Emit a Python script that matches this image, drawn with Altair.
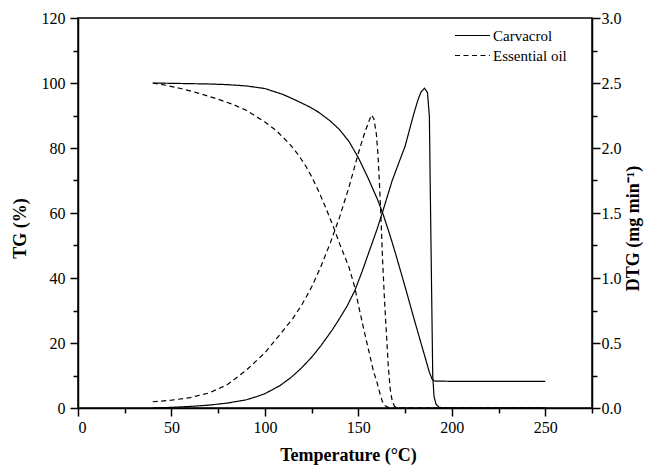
import altair as alt
import pandas as pd

# ---- data ----
series_names = ["Carvacrol", "Essential oil"]

# Carvacrol TG (%)
cv_tg_T = [40, 50, 60, 70, 80, 90, 100, 110, 118, 124, 129, 135, 140, 145, 150, 155, 160, 163, 165, 167,
           170, 175, 180, 185, 188, 189.5, 191, 200, 250]
cv_tg = [100, 99.9, 99.8, 99.7, 99.5, 99.1, 98.3, 96.4, 94.3, 92.6, 90.9, 88.3, 85.6, 82, 77, 71, 64.5, 60, 56.5, 53,
         47.3, 37.3, 27, 17, 11, 8.8, 8.3, 8.2, 8.2]

# Essential oil TG (%)
eo_tg_T = [40, 47, 55, 65, 75, 83, 90, 100, 106, 113, 118, 122, 125, 129, 133, 137, 140, 145, 148, 150,
           152, 155, 158, 160, 162, 163, 164, 166, 168, 250]
eo_tg = [100, 99.3, 98.3, 96.8, 95.0, 93.4, 91.6, 88, 85.4, 81.4, 77.8, 74.3, 71.2, 66.4, 61, 55.2, 50.5, 43.3, 37.3, 31.8,
         26.5, 19, 11.5, 7.8, 3.5, 1.8, 0.8, 0.2, 0, 0]

# Carvacrol DTG (mg/min)
cv_dtg_T = [40, 50, 60, 70, 80, 90, 95, 100, 108, 114, 119, 125, 130, 136, 140, 144, 148, 152, 156, 160,
            163, 168, 172, 175, 178, 180, 182, 183.6, 185.4, 187, 188, 188.4, 189.1, 189.8, 190.5, 191.5,
            193, 195, 250]
cv_dtg = [0, 0.005, 0.012, 0.022, 0.038, 0.063, 0.085, 0.11, 0.172, 0.235, 0.3, 0.39, 0.48, 0.6, 0.69,
          0.785, 0.9, 1.05, 1.213, 1.375, 1.51, 1.745, 1.9, 2.013, 2.175, 2.28, 2.375, 2.433, 2.46, 2.425,
          2.24, 1.768, 1.0, 0.24, 0.088, 0.03, 0.008, 0, 0]

# Essential oil DTG (mg/min)
eo_dtg_T = [40, 50, 60, 70, 80, 90, 100, 108, 115, 120, 125, 130, 135, 140, 145, 150, 153, 155.5, 157,
            158.3, 159.6, 160.5, 161.3, 162.2, 163, 164, 165, 166, 167, 168, 169.3, 171, 250]
eo_dtg = [0.048, 0.06, 0.08, 0.115, 0.18, 0.29, 0.425, 0.565, 0.69, 0.8, 0.93, 1.09, 1.27, 1.47, 1.7, 1.96,
          2.1, 2.2, 2.255, 2.225, 2.11, 1.95, 1.725, 1.425, 1.125, 0.825, 0.575, 0.325, 0.15, 0.063, 0.013,
          0, 0]

x_ticks = list(range(0, 276, 25))
tg_ticks = list(range(0, 121, 10))
dtg_ticks = [i * 0.25 for i in range(13)]


def rows(name, T, V):
    return [{"T": t, "v": v, "s": name} for t, v in zip(T, V)]


tg_df = pd.DataFrame(rows(series_names[0], cv_tg_T, cv_tg) + rows(series_names[1], eo_tg_T, eo_tg))
dtg_df = pd.DataFrame(rows(series_names[0], cv_dtg_T, cv_dtg) + rows(series_names[1], eo_dtg_T, eo_dtg))

FONT = "Liberation Serif"

x_enc = alt.X(
    "T:Q",
    scale=alt.Scale(domain=[0, 275], nice=False, zero=False),
    axis=alt.Axis(
        values=x_ticks,
        format="d",
        labelExpr="datum.value % 50 == 0 && datum.value <= 250 ? datum.label : ''",
        tickSize={"condition": {"test": "datum.value % 50 == 0", "value": 8}, "value": 5},
        title="Temperature (°C)",
        titlePadding=11,
        titleX=270,
        labelPadding=3,
        grid=False,
    ),
)

dash_enc = alt.StrokeDash(
    "s:N",
    scale=alt.Scale(domain=series_names, range=[[1, 0], [5, 3.5]]),
    legend=alt.Legend(
        title=None,
        orient="none",
        legendX=376,
        legendY=10,
        symbolType="stroke",
        symbolSize=1225,
        symbolStrokeWidth=1.2,
        symbolStrokeColor="black",
        labelFont=FONT,
        labelFontSize=15,
        labelOffset=2,
        clipHeight=15,
        rowPadding=4,
        labelColor="black",
    ),
)

tg_layer = alt.Chart(tg_df).mark_line(color="black", strokeWidth=1.2).encode(
    x=x_enc,
    y=alt.Y(
        "v:Q",
        scale=alt.Scale(domain=[0, 120], nice=False),
        axis=alt.Axis(
            orient="left",
            values=tg_ticks,
            format="d",
            labelExpr="datum.value % 20 == 0 ? datum.label : ''",
            tickSize={"condition": {"test": "datum.value % 20 == 0", "value": 8}, "value": 5},
            title="TG (%)",
            titleY=210,
            titlePadding=12,
            labelPadding=5,
            grid=False,
        ),
    ),
    strokeDash=dash_enc,
)

dtg_layer = alt.Chart(dtg_df).mark_line(color="black", strokeWidth=1.2).encode(
    x=x_enc,
    y=alt.Y(
        "v:Q",
        scale=alt.Scale(domain=[0, 3], nice=False),
        axis=alt.Axis(
            orient="right",
            values=dtg_ticks,
            format=".1f",
            labelExpr="(datum.value * 2) % 1 == 0 ? datum.label : ''",
            tickSize={"condition": {"test": "(datum.value * 2) % 1 == 0", "value": 8}, "value": 5},
            title="DTG (mg min⁻¹)",
            titleAngle=270,
            titleX=50,
            titleY=210,
            titleBaseline="bottom",
            titleAlign="center",
            labelPadding=1,
            grid=False,
        ),
    ),
    strokeDash=dash_enc,
)

chart = (
    alt.layer(tg_layer, dtg_layer)
    .resolve_scale(y="independent")
    .properties(
        width=514,
        height=390,
        autosize=alt.AutoSizeParams(type="none"),
        padding={"left": 70, "top": 10, "right": 52, "bottom": 60},
    )
    .configure_view(stroke="black", strokeWidth=1.5)
    .configure_axis(
        labelFont=FONT,
        labelFontSize=16,
        labelColor="black",
        titleFont=FONT,
        titleFontSize=18,
        titleFontWeight="bold",
        titleColor="black",
        domainColor="black",
        domainWidth=1.5,
        tickColor="black",
        tickWidth=1.5,
    )
)

chart.save("out.html", embed_options={"renderer": "svg", "actions": False})
